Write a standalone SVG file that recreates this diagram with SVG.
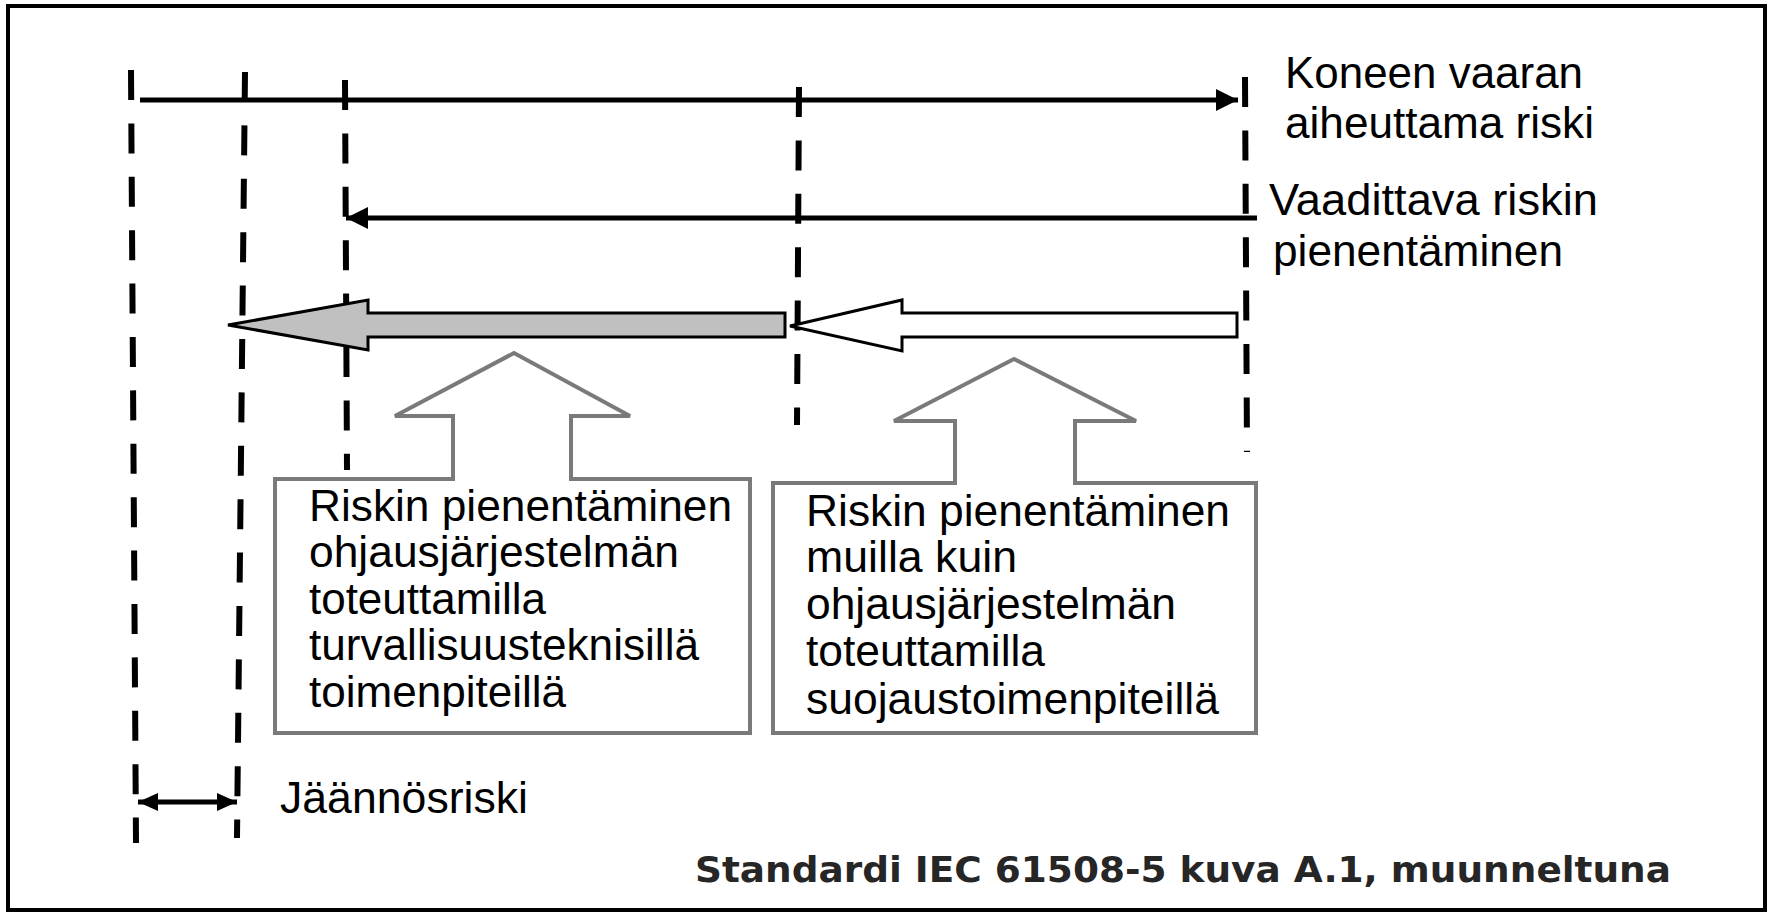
<svg xmlns="http://www.w3.org/2000/svg" width="1772" height="915" viewBox="0 0 1772 915">
<style>
.dash{stroke:#000;stroke-width:6;stroke-dasharray:30 23.4;fill:none}
.line{stroke:#000;stroke-width:5;fill:none}
.call{fill:#fff;stroke:#7a7a7a;stroke-width:4;stroke-linejoin:miter}
.t{font-family:"Liberation Sans",Arial,sans-serif;font-size:44px;fill:#000}
.cap{font-family:"DejaVu Sans","Liberation Sans",sans-serif;font-weight:bold;font-size:36px;fill:#262626}
</style>
<defs>
<marker id="ah" markerUnits="userSpaceOnUse" markerWidth="24" markerHeight="24" refX="22" refY="11" orient="auto-start-reverse">
<path d="M0,0 L22,11 L0,22 Z" fill="#000"/>
</marker>
<marker id="ahs" markerUnits="userSpaceOnUse" markerWidth="22" markerHeight="22" refX="20" refY="9" orient="auto-start-reverse">
<path d="M0,0 L20,9 L0,18 Z" fill="#000"/>
</marker>
</defs>
<rect x="8" y="6" width="1757" height="904" fill="#fff" stroke="#000" stroke-width="4"/>
<g id="guides">
<line class="dash" x1="131" y1="70" x2="136" y2="843"/>
<line class="dash" x1="245" y1="72" x2="237" y2="838"/>
<line class="dash" x1="345" y1="80" x2="347" y2="470"/>
<line class="dash" x1="799" y1="87" x2="797" y2="425"/>
<line class="dash" x1="1245" y1="77" x2="1247" y2="452"/>
</g>
<g id="connectors">
<line class="line" x1="140" y1="100" x2="1238" y2="100" marker-end="url(#ah)"/>
<line class="line" x1="1257" y1="218" x2="346" y2="218" marker-end="url(#ah)"/>
<line class="line" x1="138" y1="802" x2="237" y2="802" marker-start="url(#ahs)" marker-end="url(#ahs)"/>
<polygon id="grayArrow" points="228,325 368,300 368,313 785,313 785,337 368,337 368,350" fill="#c0c0c0" stroke="#000" stroke-width="3" stroke-linejoin="miter"/>
<polygon id="whiteArrow" points="790,326 902,300 902,313 1237,313 1237,337 902,337 902,351" fill="#fff" stroke="#000" stroke-width="3" stroke-linejoin="miter"/>
</g>
<g id="label-koneen">
<text class="t" x="1285" y="88" textLength="298" lengthAdjust="spacingAndGlyphs">Koneen vaaran</text>
<text class="t" x="1285" y="138" textLength="309" lengthAdjust="spacingAndGlyphs">aiheuttama riski</text>
</g>
<g id="label-vaadittava">
<text class="t" x="1269" y="215" textLength="329" lengthAdjust="spacingAndGlyphs">Vaadittava riskin</text>
<text class="t" x="1273" y="266" textLength="290" lengthAdjust="spacingAndGlyphs">pienentäminen</text>
</g>
<g id="box-left">
<path class="call" d="M275,479 L453,479 L453,416 L395,416 L514,353 L630,416 L571,416 L571,479 L750,479 L750,733 L275,733 Z"/>
<text class="t" x="309" y="521" textLength="423" lengthAdjust="spacingAndGlyphs">Riskin pienentäminen</text>
<text class="t" x="309" y="567" textLength="370" lengthAdjust="spacingAndGlyphs">ohjausjärjestelmän</text>
<text class="t" x="309" y="614" textLength="237" lengthAdjust="spacingAndGlyphs">toteuttamilla</text>
<text class="t" x="309" y="660" textLength="390" lengthAdjust="spacingAndGlyphs">turvallisuusteknisillä</text>
<text class="t" x="309" y="707" textLength="257" lengthAdjust="spacingAndGlyphs">toimenpiteillä</text>
</g>
<g id="box-right">
<path class="call" d="M773,483 L955,483 L955,421 L894,421 L1014,359 L1136,421 L1075,421 L1075,483 L1256,483 L1256,733 L773,733 Z"/>
<text class="t" x="806" y="526" textLength="424" lengthAdjust="spacingAndGlyphs">Riskin pienentäminen</text>
<text class="t" x="806" y="572" textLength="211" lengthAdjust="spacingAndGlyphs">muilla kuin</text>
<text class="t" x="806" y="619" textLength="370" lengthAdjust="spacingAndGlyphs">ohjausjärjestelmän</text>
<text class="t" x="806" y="666" textLength="239" lengthAdjust="spacingAndGlyphs">toteuttamilla</text>
<text class="t" x="806" y="714" textLength="413" lengthAdjust="spacingAndGlyphs">suojaustoimenpiteillä</text>
</g>
<g id="label-jaannos">
<text class="t" x="280" y="813" textLength="248" lengthAdjust="spacingAndGlyphs">Jäännösriski</text>
</g>
<g id="caption">
<text class="cap" x="695" y="882" textLength="976" lengthAdjust="spacingAndGlyphs">Standardi IEC 61508-5 kuva A.1, muunneltuna</text>
</g>
</svg>
